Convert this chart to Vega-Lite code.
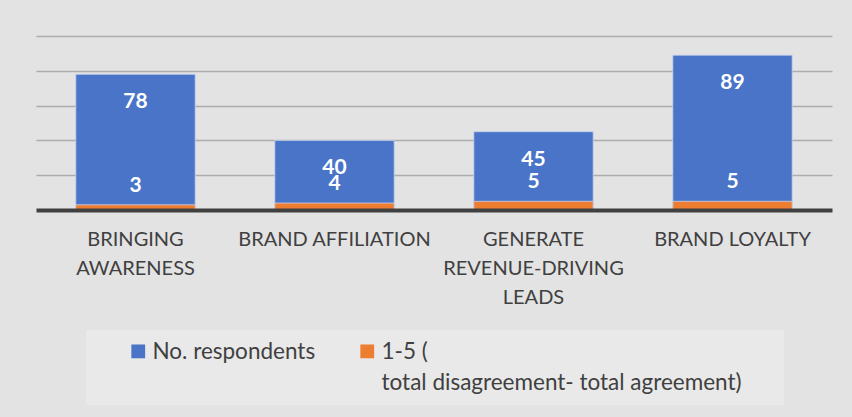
{
  "$schema": "https://vega.github.io/schema/vega-lite/v6.json",
  "width": 796,
  "height": 174,
  "autosize": {"type": "none"},
  "padding": {"left": 36, "top": 36, "right": 20, "bottom": 207},
  "background": "#e3e3e3",
  "config": {
    "view": {"stroke": null},
    "font": "Lato",
    "text": {"font": "Lato"},
    "style": {"guide-label": {"lineHeight": 31, "dy": 8}}
  },
  "data": {
    "values": [
      {"category": "BRINGING AWARENESS", "series": "No. respondents", "value": 78},
      {"category": "BRAND AFFILIATION", "series": "No. respondents", "value": 40},
      {"category": "GENERATE REVENUE-DRIVING LEADS", "series": "No. respondents", "value": 45},
      {"category": "BRAND LOYALTY", "series": "No. respondents", "value": 89},
      {"category": "BRINGING AWARENESS", "series": "1-5 (total disagreement- total agreement)", "value": 3},
      {"category": "BRAND AFFILIATION", "series": "1-5 (total disagreement- total agreement)", "value": 4},
      {"category": "GENERATE REVENUE-DRIVING LEADS", "series": "1-5 (total disagreement- total agreement)", "value": 5},
      {"category": "BRAND LOYALTY", "series": "1-5 (total disagreement- total agreement)", "value": 5}
    ]
  },
  "encoding": {
    "x": {
      "field": "category",
      "type": "nominal",
      "sort": null,
      "scale": {"paddingInner": 0.4, "paddingOuter": 0.2},
      "axis": {
        "title": null,
        "labelAngle": 0,
        "ticks": false,
        "domainColor": "#404040",
        "domainWidth": 4,
        "labelColor": "#404040",
        "labelFont": "Lato",
        "labelFontSize": 20,
        "labelLineHeight": 29,
        "labelPadding": 11,
        "labelBaseline": "top",
        "labelLimit": 400,
        "labelExpr": "datum.value == 'BRINGING AWARENESS' ? ['BRINGING', 'AWARENESS'] : datum.value == 'GENERATE REVENUE-DRIVING LEADS' ? ['GENERATE', 'REVENUE-DRIVING', 'LEADS'] : datum.value",
        "zindex": 2
      }
    },
    "y": {
      "field": "value",
      "type": "quantitative",
      "stack": null,
      "scale": {"domain": [0, 100], "nice": false},
      "axis": {
        "title": null,
        "labels": false,
        "ticks": false,
        "domain": false,
        "values": [20, 40, 60, 80, 100],
        "gridColor": "#acacac",
        "gridWidth": 1.5
      }
    }
  },
  "layer": [
    {
      "mark": {"type": "bar", "stroke": "#c9d4ee", "strokeWidth": 1, "strokeOpacity": 0.8},
      "encoding": {
        "color": {
          "field": "series",
          "type": "nominal",
          "sort": null,
          "scale": {"domain": ["No. respondents", "1-5 (total disagreement- total agreement)"], "range": ["#4a74c8", "#ed7d31"]},
          "legend": {
            "title": " ",
            "titleOrient": "right",
            "titlePadding": 32,
            "titleFontSize": 10,
            "orient": "none",
            "legendX": 50,
            "legendY": 294,
            "direction": "horizontal",
            "fillColor": "#e9e9e9",
            "padding": 10,
            "symbolType": "square",
            "symbolSize": 190,
            "symbolStrokeWidth": 0,
            "symbolOffset": 31,
            "labelFont": "Lato",
            "labelFontSize": 22.5,
            "labelColor": "#404040",
            "labelOffset": 3,
            "labelBaseline": "alphabetic",
            "labelLimit": 600,
            "columnPadding": 9,
            "labelExpr": "datum.label == 'No. respondents' ? ['No. respondents', ''] : ['1-5 (', 'total disagreement- total agreement)']"
          }
        }
      }
    },
    {
      "transform": [{"filter": "datum.series == 'No. respondents'"}],
      "mark": {"type": "text", "color": "white", "fontWeight": "bold", "fontSize": 21, "baseline": "middle", "dy": 28},
      "encoding": {"text": {"field": "value", "type": "quantitative"}}
    },
    {
      "transform": [{"filter": "datum.series != 'No. respondents'"}],
      "mark": {"type": "text", "color": "white", "fontWeight": "bold", "fontSize": 21, "baseline": "middle", "dy": -19},
      "encoding": {"text": {"field": "value", "type": "quantitative"}}
    }
  ]
}
